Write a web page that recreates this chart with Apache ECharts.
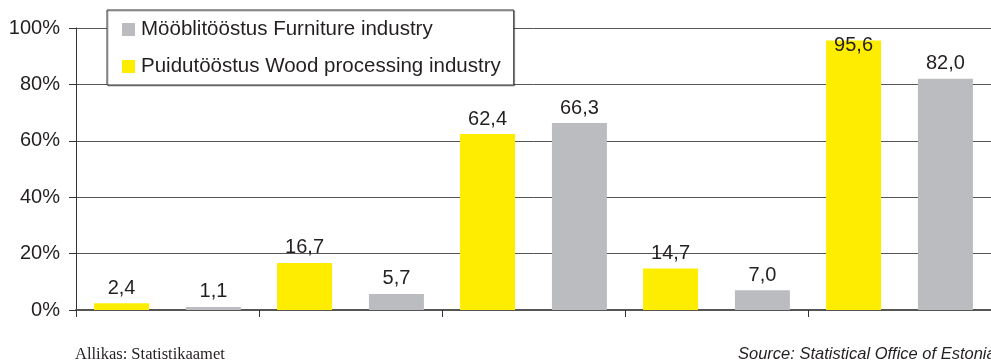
<!DOCTYPE html>
<html>
<head>
<meta charset="utf-8">
<script src="https://cdn.jsdelivr.net/npm/echarts@6/dist/echarts.min.js"></script>
<style>
html,body{margin:0;padding:0;background:#fff;}
#c{width:991px;height:364px;}
</style>
</head>
<body>
<div id="c"></div>
<script>
const categories = ['1', '2', '3', '4', '5'];
const woodName = 'Puidutööstus Wood processing industry';
const furnitureName = 'Mööblitööstus Furniture industry';
const woodValues = [2.4, 16.7, 62.4, 14.7, 95.6];
const furnitureValues = [1.1, 5.7, 66.3, 7.0, 82.0];
const yTicks = [0, 20, 40, 60, 80, 100];
const sourceLeft = 'Allikas: Statistikaamet';
const sourceRight = 'Source: Statistical Office of Estonia';

const FONT = 'Arial, "Liberation Sans", sans-serif';
const TXT = '#231f20';
const GRID_TOP = 28;

const chart = echarts.init(document.getElementById('c'));
const labelCfg = {
  show: true, position: 'top', distance: 5,
  fontFamily: FONT, fontSize: 20, color: TXT,
  formatter: p => p.value.toFixed(1).replace('.', ',')
};
chart.setOption({
  animation: false,
  textStyle: { fontFamily: FONT },
  grid: { left: 76, right: -4, top: GRID_TOP, bottom: 54, containLabel: false },
  legend: {
    orient: 'vertical', left: 107, top: 10,
    data: [furnitureName, woodName],
    icon: 'rect', itemWidth: 13, itemHeight: 13, itemGap: 16,
    padding: [9, 13, 8, 15],
    backgroundColor: '#fff', borderColor: '#333', borderWidth: 1,
    shadowColor: 'rgba(0,0,0,0.3)', shadowOffsetX: 1, shadowOffsetY: 1, shadowBlur: 0,
    textStyle: { fontFamily: FONT, fontSize: 20.5, color: TXT, padding: [0, 0, 0, 1] },
    itemStyle: { borderWidth: 0 }
  },
  xAxis: {
    type: 'category', data: categories,
    axisLine: { lineStyle: { color: '#555', width: 2 } },
    axisTick: { show: true, length: 7, lineStyle: { color: '#333', width: 1 } },
    axisLabel: { show: false }
  },
  yAxis: {
    type: 'value', min: 0, max: 100, interval: 20,
    axisLine: { show: true, lineStyle: { color: '#333', width: 1 } },
    axisTick: { show: true, length: 7, lineStyle: { color: '#333' } },
    axisLabel: { margin: 16, fontFamily: FONT, fontSize: 20, color: TXT,
      formatter: v => yTicks.includes(v) ? v + '%' : '' },
    splitLine: { show: true, lineStyle: { color: '#555', width: 1 } }
  },
  series: [
    { name: woodName, type: 'bar', data: woodValues, barWidth: 55, barGap: '67%',
      itemStyle: { color: '#FFED00' }, label: labelCfg },
    { name: furnitureName, type: 'bar', data: furnitureValues, barWidth: 55, barGap: '67%',
      itemStyle: { color: '#BBBCBF' }, label: labelCfg }
  ],
  labelLayout: function (p) {
    const minY = GRID_TOP + 5;
    if (p.labelRect.y < minY) {
      return { dy: 20 };
    }
    return {};
  },
  graphic: [
    { type: 'text', left: 75, top: 346, style: { text: sourceLeft, fontFamily: '"Liberation Serif", "Times New Roman", serif', fontSize: 16.5, fill: TXT } },
    { type: 'text', left: 738, top: 346, style: { text: sourceRight, fontFamily: FONT, fontStyle: 'italic', fontSize: 16.5, fill: TXT } }
  ]
});
</script>
</body>
</html>
